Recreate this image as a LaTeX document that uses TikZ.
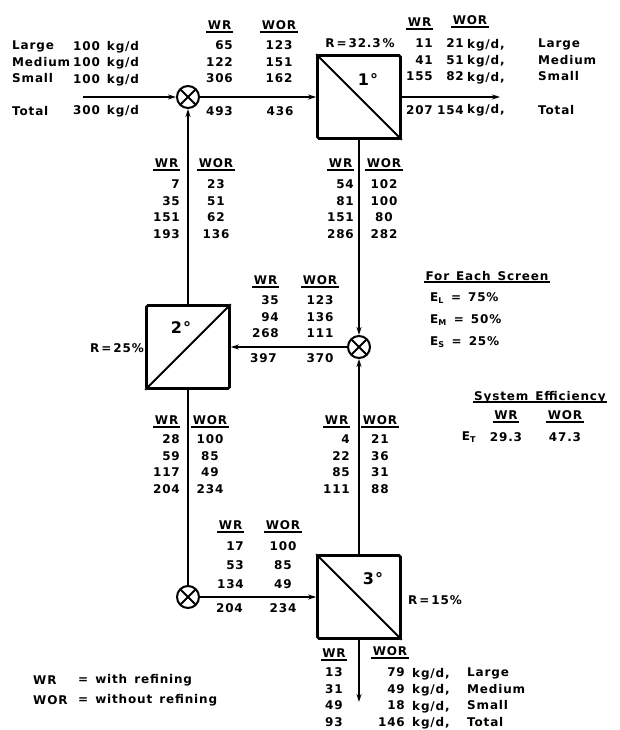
\documentclass[tikz,border=0pt]{standalone}
\usepackage{fontspec}
\setmainfont{DejaVu Sans}[LetterSpace=7, WordSpace=1.4]
\usetikzlibrary{positioning,arrows.meta}

% thick underline for column heads
\newcommand{\hdr}[1]{\setbox0=\hbox{\kern1.5pt#1\kern1.5pt}\rlap{\rule[-3pt]{\wd0}{1.6pt}}\box0}

\begin{document}
\begin{tikzpicture}[
  x=1pt,y=-1pt,
  txt/.style={font=\bfseries\fontsize{12}{16.5}\selectfont, inner sep=0pt},
  col/.style={txt, align=right, anchor=north east},
  colc/.style={txt, align=center, anchor=north},
  coll/.style={txt, align=left, anchor=north west},
  screen/.style={draw, line width=2.6pt, minimum width=83pt, minimum height=83pt, inner sep=0pt, rounded corners=1.5pt},
  diag/.style={line width=1.8pt},
  mixer/.style={circle, draw, line width=2pt, minimum size=22pt, inner sep=0pt,
    path picture={\draw[line width=2pt]
      (path picture bounding box.north west) -- (path picture bounding box.south east)
      (path picture bounding box.north east) -- (path picture bounding box.south west);}},
  flow/.style={->, >={Stealth[length=8pt,width=5pt]}, line width=1.6pt},
  plain/.style={line width=1.6pt},
  deg/.style={font=\bfseries\fontsize{16}{18}\selectfont, inner sep=0pt}
]

\path[use as bounding box] (0,0) rectangle (619,730);

% Screens and mixing points
\node[screen] (b1) at (359,97) {};
\node[screen] (b2) at (188,347) {};
\node[screen] (b3) at (359,597) {};
\draw[diag] (b1.north west) -- (b1.south east);
\draw[diag] (b2.south west) -- (b2.north east);
\draw[diag] (b3.north west) -- (b3.south east);
\node[deg] (b1lab) at (368,80) {1°};
\node[deg] (b2lab) at (181,328) {2°};
\node[deg] (b3lab) at (373,579) {3°};

\node[mixer] (m1) at (188,97) {};
\node[mixer] (m2) at (359,347) {};
\node[mixer] (m3) at (188,597) {};

\coordinate (feed) at (83,97);
\coordinate (out1) at (500,97);
\coordinate (out3) at (359,702);

% Streams
\draw[flow] (feed) -- (m1.west);
\draw[flow] (m1.east) -- (b1.west);
\draw[flow] (b1.east) -- (out1);
\draw[flow] (b1.south) -- (m2.north);
\draw[flow] (m2.west) -- (b2.east);
\draw[flow] (b2.north) -- (m1.south);
\draw[plain] (b2.south) -- (m3.north);
\draw[flow] (m3.east) -- (b3.west);
\draw[flow] (b3.north) -- (m2.south);
\draw[flow] (b3.south) -- (out3);

% Recoveries
\node[txt] (r1) at (360,43) {R\,=\,32.3\,\%};
\node[txt, anchor=east] (r2) at (144,348) {R\,=\,25\%};
\node[txt, anchor=west] (r3) at (408,600) {R\,=\,15\%};

% Feed
\node[coll] (feedname) at (12,40.8) {Large\\Medium\\Small};
\node[coll] (feedamt) at (73,40.8) {100 kg/d\\100 kg/d\\100 kg/d};
\node[txt, anchor=west] (feedtotn) at (12,111) {Total};
\node[txt, anchor=west] (feedtot) at (73,111) {300 kg/d};

% Mixer 1 to screen 1
\node[col] (s1wr) at (233,20.8) {\hdr{WR}\\[3.5pt]65\\122\\306};
\node[colc] (s1wor) at (279,20.8) {\hdr{WOR}\\[3.5pt]123\\151\\162};
\node[txt, anchor=east] (s1wrt) at (233,111) {493};
\node[txt] (s1wort) at (280,111) {436};

% Screen 1 accepts
\node[col] (a1wr) at (433,17.8) {\hdr{WR}\\[4.5pt]11\\41\\155};
\node[txt] (a1worh) at (470,22) {\hdr{WOR}};
\node[col] (a1wor) at (464,38.8) {21\\51\\82};
\node[coll] (a1unit) at (467,38.8) {kg/d,\\kg/d,\\kg/d,};
\node[coll] (a1name) at (538,38.8) {Large\\Medium\\Small};
\node[txt, anchor=east] (a1wrt) at (433,110) {207};
\node[txt, anchor=east] (a1wort) at (464,110) {154};
\node[txt, anchor=west] (a1unitt) at (467,110) {kg/d,};
\node[txt, anchor=west] (a1namet) at (538,110) {Total};

% Screen 2 accepts
\node[col] (a2wr) at (180,158.7) {\hdr{WR}\\[4.5pt]7\\35\\151\\193};
\node[colc] (a2wor) at (216,158.7) {\hdr{WOR}\\[4.5pt]23\\51\\62\\136};

% Screen 1 rejects
\node[col] (j1wr) at (354,158.7) {\hdr{WR}\\[4.5pt]54\\81\\151\\286};
\node[colc] (j1wor) at (384,158.7) {\hdr{WOR}\\[4.5pt]102\\100\\80\\282};

% Mixer 2 to screen 2
\node[col] (s2wr) at (279,275.7) {\hdr{WR}\\[3.5pt]35\\94\\268};
\node[colc] (s2wor) at (320,275.7) {\hdr{WOR}\\[3.5pt]123\\136\\111};
\node[txt, anchor=east] (s2wrt) at (277,358) {397};
\node[txt] (s2wort) at (320,358) {370};

% Screen 2 rejects
\node[col] (j2wr) at (180,415.7) {\hdr{WR}\\[2.5pt]28\\59\\117\\204};
\node[colc] (j2wor) at (210,415.7) {\hdr{WOR}\\[2.5pt]100\\85\\49\\234};

% Screen 3 accepts
\node[col] (a3wr) at (350,415.7) {\hdr{WR}\\[2.5pt]4\\22\\85\\111};
\node[colc] (a3wor) at (380,415.7) {\hdr{WOR}\\[2.5pt]21\\36\\31\\88};

% Mixer 3 to screen 3
\node[col] (s3wr) at (244,520.7) {\hdr{WR}\\[4.5pt]17\\[2.5pt]53\\[2.5pt]134};
\node[colc] (s3wor) at (283,520.7) {\hdr{WOR}\\[4.5pt]100\\[2.5pt]85\\[2.5pt]49};
\node[txt, anchor=east] (s3wrt) at (243,608) {204};
\node[txt] (s3wort) at (283,608) {234};

% Screen 3 rejects
\node[colc] (j3wr) at (334,648.7) {\hdr{WR}\\[2.5pt]13\\31\\49\\93};
\node[txt] (j3worh) at (390,653) {\hdr{WOR}};
\node[col] (j3wor) at (405,667.8) {79\\49\\18\\146};
\node[coll] (j3unit) at (412,667.8) {kg/d,\\kg/d,\\kg/d,\\kg/d,};
\node[coll] (j3name) at (467,667.8) {Large\\Medium\\Small\\Total};

% Screen efficiencies
\node[txt] (eachhd) at (487,277) {\hdr{For Each Screen}};
\node[txt, anchor=west] (el) at (430,298) {E\textsubscript{L} = 75\%};
\node[txt, anchor=west] (em) at (430,320) {E\textsubscript{M} = 50\%};
\node[txt, anchor=west] (es) at (430,342) {E\textsubscript{S} = 25\%};

\node[txt] (syshd) at (540,397) {\hdr{System Efficiency}};
\node[txt] (syswr) at (506,417) {\hdr{WR}};
\node[txt] (syswor) at (565,417) {\hdr{WOR}};
\node[txt] (et) at (469,437) {E\textsubscript{T}};
\node[txt] (etwr) at (506,437) {29.3};
\node[txt] (etwor) at (565,437) {47.3};

% Legend
\node[txt, anchor=west] (lgwr) at (33,680) {WR};
\node[txt, anchor=west] (lgwrt) at (78,680) {= with refining};
\node[txt, anchor=west] (lgwor) at (33,700) {WOR};
\node[txt, anchor=west] (lgwort) at (78,700) {= without refining};

\end{tikzpicture}
\end{document}
